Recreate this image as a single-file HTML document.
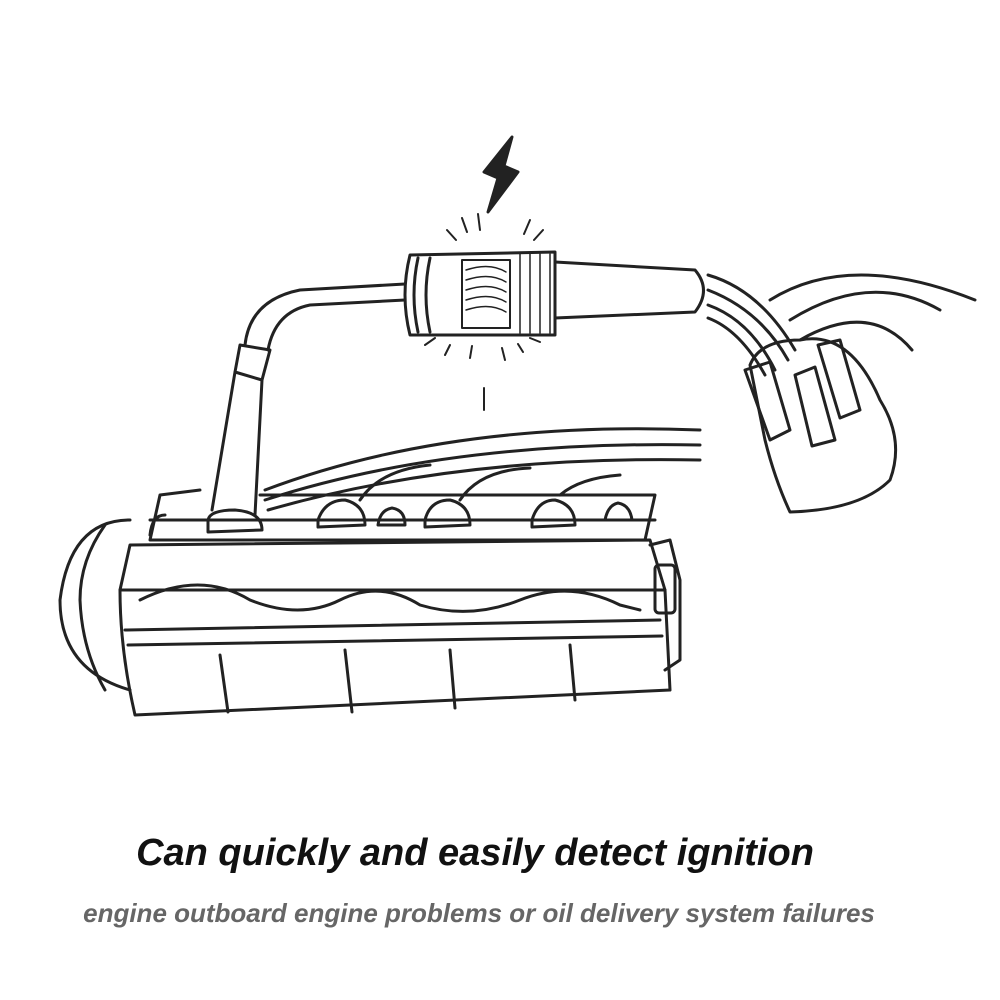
<!DOCTYPE html>
<html><head><meta charset="utf-8"><style>
html,body{margin:0;padding:0;background:#fff;width:1000px;height:1000px;overflow:hidden}
.t1{position:absolute;left:0;width:950px;top:832px;text-align:center;font:italic bold 38px "Liberation Sans",sans-serif;color:#111;white-space:nowrap}
.t2{position:absolute;left:0;width:958px;top:898px;text-align:center;font:italic bold 26px "Liberation Sans",sans-serif;color:#666;white-space:nowrap}
svg{position:absolute;left:0;top:0}
</style></head><body>
<svg width="1000" height="1000" viewBox="0 0 1000 1000" fill="none" stroke="#222" stroke-width="3" stroke-linecap="round" stroke-linejoin="round">
<path d="M512 137 L484 172 L498 178 L488 212 L518 172 L504 166 Z" fill="#222"/>
<g stroke-width="2">
<path d="M462 218 L467 232 M478 214 L480 230 M530 220 L524 234 M543 230 L534 240 M447 230 L456 240 M425 345 L435 338 M445 355 L450 345 M470 358 L472 346 M505 360 L502 348 M523 352 L518 344 M540 342 L530 338 M484 388 L484 410"/>
</g>
<path d="M410 255 L555 252 L555 335 L410 335 Q400 295 410 255 Z"/>
<path d="M418 258 Q410 295 418 332 M430 258 Q422 295 430 332"/>
<rect x="462" y="260" width="48" height="68" stroke-width="2"/>
<path d="M466 270 Q490 262 506 272 M466 280 Q490 272 506 282 M466 290 Q490 282 506 292 M466 300 Q490 292 506 302 M466 310 Q490 302 506 312" stroke-width="1.5"/>
<path d="M520 254 L520 333 M530 254 L530 333 M540 254 L540 333 M550 254 L550 333" stroke-width="1.5"/>
<path d="M555 262 L695 270 Q712 290 695 312 L555 318"/>
<path d="M405 284 L300 290 Q250 300 245 345 M405 300 L310 305 Q275 312 268 350"/>
<path d="M240 345 L270 350 L262 380 L235 372 Z"/>
<path d="M235 372 L212 510 M262 380 L255 515"/>
<path d="M708 275 Q760 290 795 350 M708 290 Q760 310 788 360 M708 305 Q750 320 775 370 M708 318 Q740 330 765 375"/>
<path d="M770 300 Q850 250 975 300 M790 320 Q870 270 940 310 M800 340 Q870 300 912 350"/>
<path d="M750 365 Q760 340 800 340 Q850 330 880 400 Q905 440 890 480 Q860 510 790 512 Q775 480 765 440 Z"/>
<path d="M745 370 L770 362 L790 430 L770 440 Z M795 375 L815 367 L835 440 L812 446 Z M818 345 L840 340 L860 410 L840 418 Z"/>
<path d="M265 490 Q450 420 700 430 M265 500 Q450 440 700 445 M268 510 Q460 455 700 460"/>
<path d="M360 500 Q380 470 430 465 M460 500 Q480 470 530 468 M560 495 Q580 478 620 475"/>
<path d="M160 495 L200 490 M160 495 L150 540 L645 540 L655 495 L260 495"/>
<path d="M150 520 L655 520"/>
<path d="M208 520 Q210 510 235 510 Q262 512 262 530 L208 532 Z"/>
<path d="M318 520 Q325 500 345 500 Q365 505 365 525 L318 527 Z"/>
<path d="M425 520 Q430 500 450 500 Q470 505 470 525 L425 527 Z"/>
<path d="M532 520 Q538 500 555 500 Q575 505 575 525 L532 527 Z"/>
<path d="M378 525 Q380 510 392 508 Q405 510 405 525 Z M605 520 Q608 505 618 503 Q630 505 632 520 Z M150 535 Q152 515 165 515"/>
<path d="M120 590 L130 545 L650 540 L665 590 L670 690 L135 715 Q120 650 120 590 Z"/>
<path d="M120 590 L665 590"/>
<path d="M140 600 Q200 570 250 600 Q300 620 340 600 Q380 580 420 605 Q470 620 520 600 Q570 580 620 605 L640 610"/>
<path d="M125 630 L660 620 M128 645 L662 636"/>
<path d="M220 655 L228 712 M345 650 L352 712 M450 650 L455 708 M570 645 L575 700"/>
<path d="M650 545 L670 540 L680 580 L680 660 L665 670"/>
<rect x="655" y="565" width="20" height="48" rx="4"/>
<path d="M130 520 Q70 520 60 600 Q60 670 130 690"/>
<path d="M105 525 Q80 560 80 600 Q82 650 105 690"/>
</svg>
<div class="t1">Can quickly and easily detect ignition</div>
<div class="t2">engine outboard engine problems or oil delivery system failures</div>
</body></html>
